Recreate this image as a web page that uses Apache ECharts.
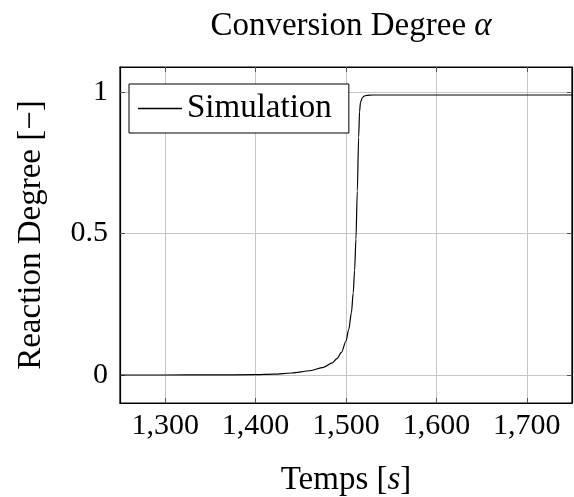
<!DOCTYPE html>
<html>
<head>
<meta charset="utf-8">
<script src="https://cdn.jsdelivr.net/npm/echarts@6/dist/echarts.min.js"></script>
<style>
  html, body { margin: 0; padding: 0; background: #fff; }
  #chart { width: 574px; height: 497px; }
</style>
</head>
<body>
<div id="chart"></div>
<script>
// values
var timeValues = [1250, 1300, 1350, 1400, 1420, 1440, 1460, 1475, 1485, 1490, 1495, 1500, 1503, 1506,
                  1508, 1509.5, 1511, 1512.5, 1514, 1515, 1516, 1518, 1520, 1523, 1530, 1600, 1700, 1750];
var alphaValues = [0, 0, 0.0003, 0.001, 0.003, 0.007, 0.015, 0.027, 0.043, 0.058, 0.08, 0.12, 0.16, 0.22,
                   0.29, 0.37, 0.48, 0.65, 0.84, 0.93, 0.963, 0.979, 0.985, 0.988, 0.989, 0.989, 0.989, 0.989];
var xTicks = [1300, 1400, 1500, 1600, 1700];
var yTicks = [0, 0.5, 1];
var seriesName = 'Simulation';

var FONT = 'Liberation Serif';
var points = timeValues.map(function (t, i) { return [t, alphaValues[i]]; });

var myChart = echarts.init(document.getElementById('chart'));

var gridColor = '#c6c6c6';

function ticks(vals) {
  return { show: true, inside: true, length: 5, customValues: vals, lineStyle: { color: '#555', width: 1 } };
}

option = {
  animation: false,
  title: {
    text: 'Conversion Degree {a|α}',
    left: 346,
    textAlign: 'center',
    top: 5,
    textStyle: {
      fontFamily: FONT, fontSize: 33, fontWeight: 'normal', color: '#000',
      rich: { a: { fontFamily: FONT, fontSize: 33, fontStyle: 'italic', color: '#000' } }
    }
  },
  legend: {
    data: [{ name: seriesName, icon: 'rect' }],
    left: 129,
    top: 84,
    padding: [8, 17, 8, 9],
    itemGap: 0,
    itemWidth: 44,
    itemHeight: 1.3,
    borderColor: '#000',
    borderWidth: 1,
    backgroundColor: '#fff',
    selectedMode: false,
    itemStyle: { color: '#000' },
    textStyle: { fontFamily: FONT, fontSize: 33, color: '#000', lineHeight: 32 }
  },
  grid: { left: 120, right: 2, top: 67, bottom: 94, containLabel: false, outerBoundsMode: 'none',
          show: true, borderColor: '#000', borderWidth: 1.2, backgroundColor: 'transparent' },
  xAxis: [{
    type: 'value',
    min: 1250, max: 1750,
    name: 'Temps [{i|s}]',
    nameLocation: 'middle',
    nameGap: 61,
    nameTextStyle: {
      fontFamily: FONT, fontSize: 33, color: '#000',
      rich: { i: { fontFamily: FONT, fontSize: 33, fontStyle: 'italic', color: '#000' } }
    },
    axisLine: { show: true, onZero: false, lineStyle: { color: '#000', width: 1.2 } },
    axisTick: ticks(xTicks),
    axisLabel: {
      customValues: xTicks,
      margin: 8,
      fontFamily: FONT, fontSize: 30, color: '#000',
      formatter: function (v) { return v.toLocaleString('en-US'); }
    },
    splitLine: { show: true, lineStyle: { color: gridColor, width: 1 } }
  }, {
    type: 'value',
    position: 'top',
    min: 1250, max: 1750,
    axisLine: { show: true, onZero: false, lineStyle: { color: '#000', width: 1.2 } },
    axisTick: ticks(xTicks),
    axisLabel: { show: false, customValues: xTicks },
    splitLine: { show: false }
  }],
  yAxis: [{
    type: 'value',
    min: -0.099, max: 1.088,
    name: 'Reaction Degree [−]',
    nameLocation: 'middle',
    nameGap: 72,
    nameTextStyle: { fontFamily: FONT, fontSize: 33, color: '#000' },
    axisLine: { show: true, onZero: false, lineStyle: { color: '#000', width: 1.2 } },
    axisTick: ticks(yTicks),
    axisLabel: {
      customValues: yTicks,
      margin: 12,
      fontFamily: FONT, fontSize: 30, color: '#000',
      formatter: function (v) { return String(v); }
    },
    splitLine: { show: true, lineStyle: { color: gridColor, width: 1 } }
  }, {
    type: 'value',
    position: 'right',
    min: -0.099, max: 1.088,
    axisLine: { show: true, onZero: false, lineStyle: { color: '#000', width: 1.2 } },
    axisTick: ticks(yTicks),
    axisLabel: { show: false, customValues: yTicks },
    splitLine: { show: false }
  }],
  series: [{
    name: seriesName,
    type: 'line',
    data: points,
    symbol: 'none',
    smooth: 0.3,
    smoothMonotone: 'x',
    lineStyle: { color: '#000', width: 1.2 },
    itemStyle: { color: '#000' },
    z: 3
  }]
};
myChart.setOption(option);
</script>
</body>
</html>
